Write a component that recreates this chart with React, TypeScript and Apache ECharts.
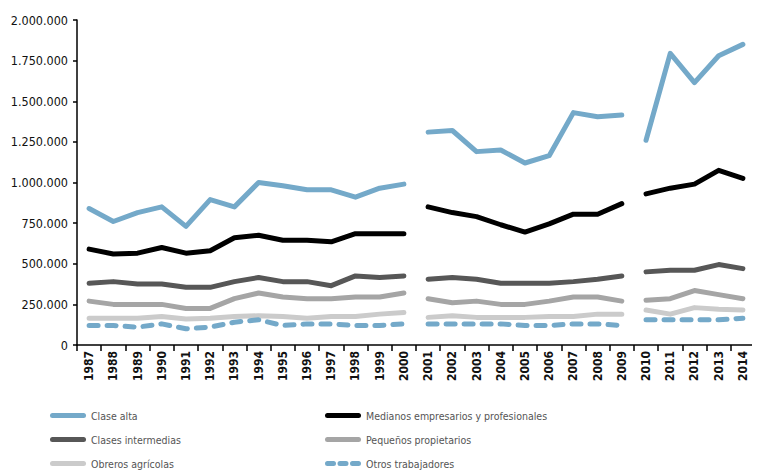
import React, { useEffect, useRef } from "react";
import * as echarts from "echarts";

const years = ["1987","1988","1989","1990","1991","1992","1993","1994","1995","1996","1997","1998","1999","2000","2001","2002","2003","2004","2005","2006","2007","2008","2009","2010","2011","2012","2013","2014"];

const claseAlta = [840000,760000,815000,850000,730000,895000,850000,1000000,980000,955000,955000,910000,965000,990000,1310000,1320000,1190000,1200000,1120000,1165000,1430000,1405000,1415000,1260000,1795000,1615000,1780000,1850000];
const medianos = [590000,560000,565000,600000,565000,580000,660000,675000,645000,645000,635000,685000,685000,685000,850000,815000,790000,740000,695000,745000,805000,805000,870000,930000,965000,990000,1075000,1025000];
const intermedias = [380000,390000,375000,375000,355000,355000,390000,415000,390000,390000,365000,425000,415000,425000,405000,415000,405000,380000,380000,380000,390000,405000,425000,450000,460000,460000,495000,470000];
const pequenos = [270000,250000,250000,250000,225000,225000,285000,320000,295000,285000,285000,295000,295000,320000,285000,260000,270000,250000,250000,270000,295000,295000,270000,275000,285000,335000,310000,285000];
const obreros = [165000,165000,165000,175000,160000,165000,175000,180000,175000,165000,175000,175000,190000,200000,170000,180000,170000,170000,170000,175000,175000,190000,190000,215000,190000,230000,220000,215000];
const otros = [120000,120000,110000,130000,100000,110000,140000,155000,120000,130000,130000,120000,120000,130000,130000,130000,130000,130000,120000,120000,130000,130000,120000,155000,155000,155000,155000,165000];

const segments: [number, number][] = [[0, 13], [14, 22], [23, 27]];

const FONT = "'DejaVu Sans Condensed', 'DejaVu Sans', sans-serif";

const SOLID_ICON = "path://M2.5,0H33.5A2.5,2.5 0 0 1 33.5,5H2.5A2.5,2.5 0 0 1 2.5,0Z";
const DASH_ICON = "path://M2.5,0H8.5A2.5,2.5 0 0 1 8.5,5H2.5A2.5,2.5 0 0 1 2.5,0Z M15,0H21A2.5,2.5 0 0 1 21,5H15A2.5,2.5 0 0 1 15,0Z M27.5,0H33.5A2.5,2.5 0 0 1 33.5,5H27.5A2.5,2.5 0 0 1 27.5,0Z";

function fmt(v: number) {
  return String(v).replace(/\B(?=(\d{3})+(?!\d))/g, ".");
}

export default function App() {
  const ref = useRef<HTMLDivElement>(null);
  useEffect(() => {
    if (!ref.current) return;
    const chart = echarts.init(ref.current, undefined, { renderer: "svg" });
    const defs = [
      { name: "Clase alta", data: claseAlta, color: "#74a9c9", type: "solid" as any },
      { name: "Medianos empresarios y profesionales", data: medianos, color: "#000000", type: "solid" as any },
      { name: "Clases intermedias", data: intermedias, color: "#575757", type: "solid" as any },
      { name: "Pequeños propietarios", data: pequenos, color: "#a5a5a5", type: "solid" as any },
      { name: "Obreros agrícolas", data: obreros, color: "#cbcbcb", type: "solid" as any },
      { name: "Otros trabajadores", data: otros, color: "#74a9c9", type: [9, 9] as any },
    ];
    const series: any[] = [];
    defs.forEach((d) => {
      segments.forEach(([a, b]) => {
        series.push({
          type: "line",
          name: d.name,
          data: d.data.map((v, i) => (i >= a && i <= b ? v : null)),
          symbol: "none",
          showSymbol: false,
          connectNulls: false,
          color: d.color,
          itemStyle: { color: d.color },
          lineStyle: { color: d.color, width: 5, type: d.type, cap: "round", join: "round" },
          z: 2,
        });
      });
    });
    const legendCommon = {
      orient: "vertical",
      itemWidth: 36,
      itemHeight: 5,
      itemGap: 11,
      top: 409,
      padding: 0,
      textStyle: { fontFamily: FONT, fontSize: 10.5, color: "#555", lineHeight: 13 },
      selectedMode: false,
    };
    chart.setOption({
      animation: false,
      backgroundColor: "#fff",
      grid: { left: 77, right: 5, top: 20, bottom: 127 },
      legend: [
        {
          ...legendCommon,
          left: 50,
          data: [
            { name: "Clase alta", icon: SOLID_ICON },
            { name: "Clases intermedias", icon: SOLID_ICON },
            { name: "Obreros agrícolas", icon: SOLID_ICON },
          ],
        },
        {
          ...legendCommon,
          left: 325,
          data: [
            { name: "Medianos empresarios y profesionales", icon: SOLID_ICON },
            { name: "Pequeños propietarios", icon: SOLID_ICON },
            { name: "Otros trabajadores", icon: DASH_ICON },
          ],
        },
      ],
      xAxis: {
        type: "category",
        data: years,
        boundaryGap: true,
        axisLine: { lineStyle: { color: "#000", width: 1.5 } },
        axisTick: { show: true, length: 6, lineStyle: { color: "#000", width: 1.5 } },
        axisLabel: { rotate: 90, interval: 0, fontFamily: FONT, fontSize: 12, fontWeight: "bold", color: "#111", margin: 6 },
      },
      yAxis: {
        type: "value",
        min: 0,
        max: 2000000,
        interval: 250000,
        splitLine: { show: false },
        axisLine: { show: true, lineStyle: { color: "#000", width: 1.5 } },
        axisTick: { show: true, length: 4, lineStyle: { color: "#000", width: 1.5 } },
        axisLabel: { fontFamily: FONT, fontSize: 12.5, color: "#111", margin: 9, formatter: (v: number) => fmt(v) },
      },
      series,
    });
    return () => chart.dispose();
  }, []);
  return <div ref={ref} style={{ width: 760, height: 472, marginLeft: -8, marginTop: -8 }} />;
}
